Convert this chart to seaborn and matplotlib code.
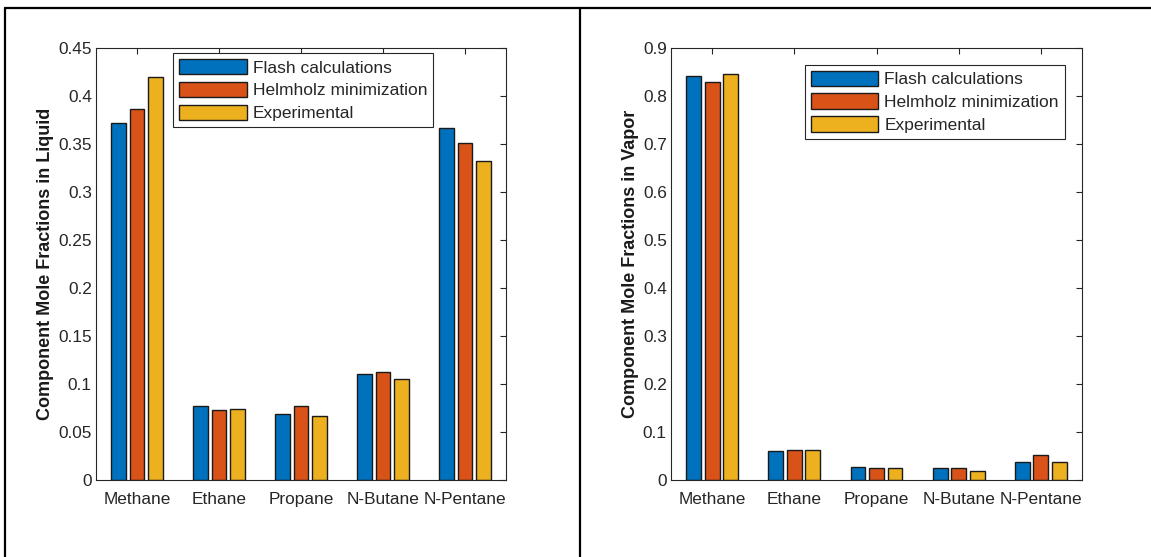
import pandas as pd
import seaborn as sns
import matplotlib.pyplot as plt
from matplotlib.patches import Patch
from matplotlib.lines import Line2D
from matplotlib.ticker import FuncFormatter, MultipleLocator

# Components and methods
components = ['Methane', 'Ethane', 'Propane', 'N-Butane', 'N-Pentane']
methods = ['Flash calculations', 'Helmholz minimization', 'Experimental']
colors = ['#0072BD', '#D95319', '#EDB120']

# Mole fractions in liquid
liquid_flash = [0.372, 0.077, 0.069, 0.110, 0.367]
liquid_helm = [0.386, 0.073, 0.077, 0.112, 0.351]
liquid_exp = [0.420, 0.074, 0.067, 0.105, 0.332]

# Mole fractions in vapor
vapor_flash = [0.841, 0.060, 0.027, 0.024, 0.038]
vapor_helm = [0.830, 0.063, 0.024, 0.024, 0.052]
vapor_exp = [0.845, 0.063, 0.026, 0.019, 0.038]


def to_long(flash, helm, exp):
    rows = []
    for m, vals in zip(methods, [flash, helm, exp]):
        for c, v in zip(components, vals):
            rows.append({'component': c, 'method': m, 'value': v})
    return pd.DataFrame(rows)


df_liq = to_long(liquid_flash, liquid_helm, liquid_exp)
df_vap = to_long(vapor_flash, vapor_helm, vapor_exp)

sns.set_style('white')
plt.rcParams['font.family'] = ['Liberation Sans', 'DejaVu Sans']
gray = '#262626'

W, H = 1151, 557
fig = plt.figure(figsize=(W / 100, H / 100), dpi=100)
ax1 = fig.add_axes([96 / W, 1 - 480 / H, 410 / W, 432 / H])
ax2 = fig.add_axes([671 / W, 1 - 480 / H, 411 / W, 432 / H])

fmt = FuncFormatter(lambda v, p: '%g' % round(v, 4))


def draw(ax, df, ymax, step, ylabel, leg_anchor):
    sns.barplot(data=df, x='component', y='value', hue='method', palette=colors,
                width=0.675, gap=0.19, edgecolor='#1a1a1a', linewidth=1.0,
                legend=False, errorbar=None, ax=ax, saturation=1)
    ax.set_xlim(-0.5, 4.5)
    ax.set_ylim(0, ymax)
    ax.yaxis.set_major_locator(MultipleLocator(step))
    ax.yaxis.set_major_formatter(fmt)
    ax.set_xlabel('')
    ax.set_ylabel(ylabel, fontsize=13, fontweight='bold', color='#1a1a1a', labelpad=3)
    ax.tick_params(axis='both', direction='in', length=4, width=0.8, colors=gray,
                   labelsize=12.4, top=True, right=True, labelcolor=gray)
    ax.tick_params(axis='x', pad=8.5)
    ax.tick_params(axis='y', pad=3)
    for s in ax.spines.values():
        s.set_visible(True)
        s.set_color(gray)
        s.set_linewidth(0.8)
    handles = [Patch(facecolor=c, edgecolor='#1a1a1a', linewidth=1.0, label=m)
               for c, m in zip(colors, methods)]
    leg = ax.legend(handles=handles, loc='upper left', bbox_to_anchor=leg_anchor,
                    borderaxespad=0, fontsize=12.5, frameon=True, fancybox=False,
                    edgecolor=gray, framealpha=1, handlelength=3.9, handleheight=0.98,
                    handletextpad=0.35, labelspacing=0.36, borderpad=0.33)
    leg.get_frame().set_linewidth(0.8)
    for t in leg.get_texts():
        t.set_color(gray)


draw(ax1, df_liq, 0.45, 0.05, 'Component Mole Fractions in Liquid', (0.188, 0.988))
draw(ax2, df_vap, 0.9, 0.1, 'Component Mole Fractions in Vapor', (0.326, 0.961))

# table borders around the two panels
fig.add_artist(Line2D([5 / W, 5 / W], [0, 1 - 8 / H], color='black', lw=1.6))
fig.add_artist(Line2D([580 / W, 580 / W], [0, 1 - 8 / H], color='black', lw=1.6))
fig.add_artist(Line2D([5 / W, 1], [1 - 8 / H, 1 - 8 / H], color='black', lw=1.6))

fig.savefig('out.png', dpi=100, facecolor='white')
